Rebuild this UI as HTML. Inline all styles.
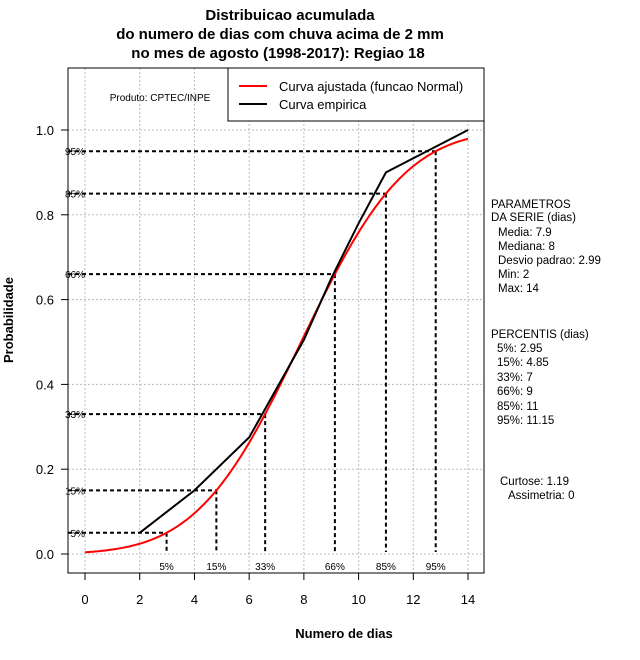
<!DOCTYPE html>
<html><head><meta charset="utf-8"><style>
body{margin:0;background:#fff;}
svg{display:block;font-family:"Liberation Sans",sans-serif;}
</style></head><body>
<svg id="chart" width="640" height="660" viewBox="0 0 640 660">
<text x="290" y="20" text-anchor="middle" font-size="15" font-weight="bold">Distribuicao acumulada</text>
<text x="280" y="39" text-anchor="middle" font-size="15" font-weight="bold">do numero de dias com chuva acima de 2 mm</text>
<text x="278" y="58" text-anchor="middle" font-size="15" font-weight="bold">no mes de agosto (1998-2017): Regiao 18</text>
<g id="grid"></g>
<g id="dash"></g>
<g id="series"></g>
<g id="axes"></g>
<rect x="68" y="68" width="416" height="505" fill="none" stroke="#000"/>
<text x="160" y="101" text-anchor="middle" font-size="10">Produto: CPTEC/INPE</text>
<g>
<rect x="228" y="68" width="256" height="53" fill="#fff" stroke="#000"/>
<line x1="239" y1="86" x2="267" y2="86" stroke="#f00" stroke-width="2"/>
<text x="279" y="91" font-size="13">Curva ajustada (funcao Normal)</text>
<line x1="239" y1="104" x2="267" y2="104" stroke="#000" stroke-width="2"/>
<text x="279" y="109" font-size="13">Curva empirica</text>
</g>
<text x="344" y="638" text-anchor="middle" font-size="13" font-weight="bold">Numero de dias</text>
<text transform="translate(13,320) rotate(-90)" text-anchor="middle" font-size="13" font-weight="bold">Probabilidade</text>
<g font-size="11.5">
<text x="491" y="208">PARAMETROS</text>
<text x="491" y="221">DA SERIE (dias)</text>
<text x="498" y="236">Media: 7.9</text>
<text x="498" y="250">Mediana: 8</text>
<text x="498" y="264">Desvio padrao: 2.99</text>
<text x="498" y="278">Min: 2</text>
<text x="498" y="292">Max: 14</text>
<text x="491" y="338">PERCENTIS (dias)</text>
<text x="497" y="352">5%: 2.95</text>
<text x="497" y="366">15%: 4.85</text>
<text x="497" y="381">33%: 7</text>
<text x="497" y="395">66%: 9</text>
<text x="497" y="410">85%: 11</text>
<text x="497" y="424">95%: 11.15</text>
<text x="500" y="485">Curtose: 1.19</text>
<text x="508" y="499">Assimetria: 0</text>
</g>
</svg>
<script>
const xTicks=[0,2,4,6,8,10,12,14];
const yTicks=[0,0.2,0.4,0.6,0.8,1.0];
const empX=[2,4,6,7,8,9,10,11,14];
const empY=[0.05,0.15,0.275,0.39,0.505,0.65,0.78,0.9,1.0];
const normMean=7.9, normSd=2.99;
const pctLevels=[0.05,0.15,0.33,0.66,0.85,0.95];
const pctLabels=["5%","15%","33%","66%","85%","95%"];
const NS="http://www.w3.org/2000/svg";
const X=v=>85+v*27.36, Y=v=>554-v*424;
function mk(p,t,a){const e=document.createElementNS(NS,t);for(const k in a)e.setAttribute(k,a[k]);p.appendChild(e);return e;}
function erf(x){const s=Math.sign(x);x=Math.abs(x);const t=1/(1+0.3275911*x);const y=1-(((((1.061405429*t-1.453152027)*t)+1.421413741)*t-0.284496736)*t+0.254829592)*t*Math.exp(-x*x);return s*y;}
const cdf=x=>0.5*(1+erf((x-normMean)/(normSd*Math.SQRT2)));
function qnorm(p){let lo=-10,hi=30;for(let i=0;i<60;i++){const m=(lo+hi)/2;if(cdf(m)<p)lo=m;else hi=m;}return (lo+hi)/2;}
const grid=document.getElementById('grid'),axes=document.getElementById('axes'),dash=document.getElementById('dash'),series=document.getElementById('series');
xTicks.forEach(t=>{
 const g=mk(grid,'line',{x1:X(t),x2:X(t),y1:68,y2:573,stroke:'#bbb','stroke-dasharray':'2,2'});
 
 const l=mk(axes,'line',{x1:X(t),x2:X(t),y1:573,y2:580,stroke:'#000'});
 
 const tx=mk(axes,'text',{x:X(t),y:604,'text-anchor':'middle','font-size':'13'});tx.textContent=t;
 
});
yTicks.forEach(t=>{
 const g=mk(grid,'line',{x1:68,x2:484,y1:Y(t),y2:Y(t),stroke:'#bbb','stroke-dasharray':'2,2'});
 
 const l=mk(axes,'line',{x1:61,x2:68,y1:Y(t),y2:Y(t),stroke:'#000'});
 
 const tx=mk(axes,'text',{x:54,y:Y(t)+5,'text-anchor':'end','font-size':'13'});tx.textContent=t.toFixed(1);
 
});
pctLevels.forEach((p,i)=>{
 const q=qnorm(p);
 const h=mk(dash,'line',{x1:68,x2:X(q),y1:Y(p),y2:Y(p),stroke:'#000','stroke-width':2,'stroke-dasharray':'4,3'});
 
 const v=mk(dash,'line',{x1:X(q),x2:X(q),y1:Y(p),y2:Y(0)-2,stroke:'#000','stroke-width':2,'stroke-dasharray':'4,3'});
 
 const a=mk(dash,'text',{x:85,y:Y(p)+4,'text-anchor':'end','font-size':'10'});a.textContent=pctLabels[i];
 
 const b=mk(dash,'text',{x:X(q),y:570,'text-anchor':'middle','font-size':'10'});b.textContent=pctLabels[i];
 
});
let pts=[];for(let x=0;x<=14.001;x+=0.1)pts.push(X(x).toFixed(1)+','+Y(cdf(x)).toFixed(1));
const nl=mk(series,'polyline',{points:pts.join(' '),fill:'none',stroke:'#f00','stroke-width':2});

const el=mk(series,'polyline',{points:empX.map((x,i)=>X(x)+','+Y(empY[i])).join(' '),fill:'none',stroke:'#000','stroke-width':2});

</script>
</body></html>
